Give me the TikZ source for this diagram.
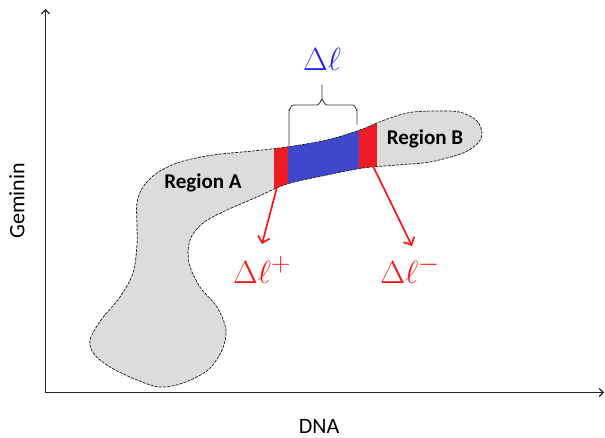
\documentclass[tikz,border=0pt]{standalone}
\usepackage{fontspec}
\newfontfamily\labelfont{Carlito}
\usetikzlibrary{arrows.meta}
\definecolor{blobgray}{RGB}{220,220,220}
\definecolor{stripred}{RGB}{237,28,36}
\definecolor{stripblue}{RGB}{63,72,204}
\definecolor{deltablue}{RGB}{30,30,255}
\definecolor{deltared}{RGB}{255,20,20}
\tikzset{
  axis/.style={line width=1.5pt,black!85,-{Straight Barb[length=4pt,width=8pt,line width=1.2pt]}},
  redarrow/.style={line width=1.7pt,deltared,-{Straight Barb[length=6pt,width=12pt,line width=1.7pt]}},
  regionlabel/.style={font=\labelfont\bfseries\fontsize{21}{24}\selectfont},
  axislabel/.style={font=\labelfont\fontsize{22}{26}\selectfont,inner sep=1pt},
  deltalabel/.style={font=\Huge,scale=1.29},
  outline/.style={draw=black!85,dash pattern=on 3pt off 1.2pt,line width=0.75pt},
  bracestyle/.style={draw=black!80,line width=0.8pt}
}
\begin{document}
\begin{tikzpicture}[x=1pt,y=-1pt]
\useasboundingbox (0,0) rectangle (605,438);
% population outline
\def\blobpath{plot[smooth cycle,tension=0.55] coordinates{
 (463,113) (447,111) (413,112) (390,118) (377,123) (360,130) (327,140)
 (287,147) (253,151) (213,155) (180,162) (157,173) (143,187) (137,203)
 (137,227) (137,245) (133,273) (120,297) (101,320) (90,340) (94,354)
 (110,367) (137,380) (160,387) (183,383) (208,370) (222,350) (226,330)
 (217,307) (200,287) (189,263) (190,240) (203,223) (227,210) (257,197)
 (287,184) (327,175) (363,168) (397,165) (430,162) (463,153) (478,143)
 (482,133) (477,121)}}
\fill[blobgray] \blobpath;
\begin{scope}
  \clip \blobpath;
  \fill[stripred]  (274,90) rectangle (288,200);
  \fill[stripblue] (288,90) rectangle (359,200);
  \fill[stripred]  (359,90) rectangle (377,200);
\end{scope}
\draw[outline] \blobpath;
% axes
\coordinate (origin) at (45.5,392.5);
\coordinate (ytop) at (45.5,9);
\coordinate (xend) at (604,392.5);
\draw[axis] (origin) -- (ytop);
\draw[axis] (origin) -- (xend);
\node[axislabel,rotate=90] (ylab) at (17,201) {Geminin};
\node[axislabel] (xlab) at (319,426) {DNA};
% region names
\node[regionlabel] (ra) at (203,183) {Region A};
\node[regionlabel] (rb) at (425,139) {Region B};
% brace over the middle band
\coordinate (bl) at (289,147);
\coordinate (br) at (357,125);
\coordinate (btip) at (322,85);
\draw[bracestyle] (bl) -- (289,110) to[out=-90,in=180] (293,105) -- (317,105)
  to[out=0,in=90] (322,100) -- (btip);
\draw[bracestyle] (br) -- (357,110) to[out=-90,in=0] (353,105) -- (327,105)
  to[out=180,in=90] (322,100);
\node[deltalabel,text=deltablue] (dl) at (322,59) {$\Delta\ell$};
% boundary arrows
\coordinate (sl) at (281,172);
\coordinate (sr) at (372,164);
\coordinate (el) at (262,244);
\coordinate (er) at (412,246);
\draw[redarrow] (sl) -- (el);
\draw[redarrow] (sr) -- (er);
\node[deltalabel,text=deltared] (dp) at (262,270) {$\Delta\ell^{+}$};
\node[deltalabel,text=deltared] (dm) at (410,270) {$\Delta\ell^{-}$};
\end{tikzpicture}
\end{document}
